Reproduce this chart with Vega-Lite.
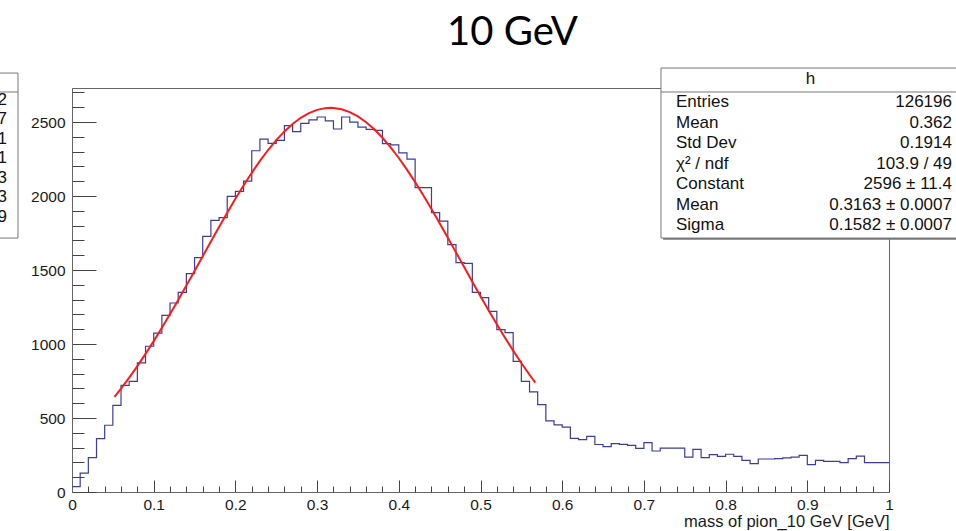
{
  "$schema": "https://vega.github.io/schema/vega-lite/v6.json",
  "width": 817,
  "height": 404,
  "autosize": {"type": "none"},
  "padding": {"left": 72, "top": 88, "right": 67, "bottom": 39},
  "background": "white",
  "title": {"text": "10 GeV", "font": "Lato", "fontSize": 40, "fontWeight": "normal", "color": "#000000", "anchor": "middle", "dx": 32, "offset": 15},
  "config": {
    "view": {"stroke": "#666666", "strokeWidth": 1},
    "axis": {"grid": false, "tickColor": "#444444", "domainColor": "#666666", "labelFont": "Liberation Sans", "labelFontSize": 15.5, "labelColor": "#1a1a1a", "labelFlush": false, "titleFont": "Liberation Sans", "titleFontSize": 16.5, "titleFontWeight": "normal", "titleColor": "#1a1a1a"}
  },
  "datasets": {
    "hist": [
      {"x": 0.00, "n": 36}, {"x": 0.01, "n": 128}, {"x": 0.02, "n": 232}, {"x": 0.03, "n": 361}, {"x": 0.04, "n": 451},
      {"x": 0.05, "n": 586}, {"x": 0.06, "n": 721}, {"x": 0.07, "n": 748}, {"x": 0.08, "n": 872}, {"x": 0.09, "n": 985},
      {"x": 0.10, "n": 1074}, {"x": 0.11, "n": 1194}, {"x": 0.12, "n": 1277}, {"x": 0.13, "n": 1349}, {"x": 0.14, "n": 1476},
      {"x": 0.15, "n": 1584}, {"x": 0.16, "n": 1728}, {"x": 0.17, "n": 1836}, {"x": 0.18, "n": 1854}, {"x": 0.19, "n": 1998},
      {"x": 0.20, "n": 2032}, {"x": 0.21, "n": 2101}, {"x": 0.22, "n": 2306}, {"x": 0.23, "n": 2385}, {"x": 0.24, "n": 2356},
      {"x": 0.25, "n": 2376}, {"x": 0.26, "n": 2476}, {"x": 0.27, "n": 2435}, {"x": 0.28, "n": 2491}, {"x": 0.29, "n": 2514},
      {"x": 0.30, "n": 2534}, {"x": 0.31, "n": 2508}, {"x": 0.32, "n": 2453}, {"x": 0.33, "n": 2534}, {"x": 0.34, "n": 2499},
      {"x": 0.35, "n": 2466}, {"x": 0.36, "n": 2450}, {"x": 0.37, "n": 2444}, {"x": 0.38, "n": 2354}, {"x": 0.39, "n": 2345},
      {"x": 0.40, "n": 2292}, {"x": 0.41, "n": 2250}, {"x": 0.42, "n": 2057}, {"x": 0.43, "n": 2057}, {"x": 0.44, "n": 1888},
      {"x": 0.45, "n": 1831}, {"x": 0.46, "n": 1671}, {"x": 0.47, "n": 1550}, {"x": 0.48, "n": 1545}, {"x": 0.49, "n": 1349},
      {"x": 0.50, "n": 1313}, {"x": 0.51, "n": 1221}, {"x": 0.52, "n": 1097}, {"x": 0.53, "n": 1077}, {"x": 0.54, "n": 883},
      {"x": 0.55, "n": 748}, {"x": 0.56, "n": 676}, {"x": 0.57, "n": 591}, {"x": 0.58, "n": 480}, {"x": 0.59, "n": 453},
      {"x": 0.60, "n": 438}, {"x": 0.61, "n": 363}, {"x": 0.62, "n": 354}, {"x": 0.63, "n": 376}, {"x": 0.64, "n": 321},
      {"x": 0.65, "n": 306}, {"x": 0.66, "n": 327}, {"x": 0.67, "n": 322}, {"x": 0.68, "n": 315}, {"x": 0.69, "n": 295},
      {"x": 0.70, "n": 334}, {"x": 0.71, "n": 277}, {"x": 0.72, "n": 297}, {"x": 0.73, "n": 297}, {"x": 0.74, "n": 297},
      {"x": 0.75, "n": 236}, {"x": 0.76, "n": 288}, {"x": 0.77, "n": 232}, {"x": 0.78, "n": 252}, {"x": 0.79, "n": 241},
      {"x": 0.80, "n": 255}, {"x": 0.81, "n": 241}, {"x": 0.82, "n": 214}, {"x": 0.83, "n": 192}, {"x": 0.84, "n": 223},
      {"x": 0.85, "n": 223}, {"x": 0.86, "n": 225}, {"x": 0.87, "n": 230}, {"x": 0.88, "n": 236}, {"x": 0.89, "n": 248},
      {"x": 0.90, "n": 185}, {"x": 0.91, "n": 214}, {"x": 0.92, "n": 207}, {"x": 0.93, "n": 207}, {"x": 0.94, "n": 198},
      {"x": 0.95, "n": 225}, {"x": 0.96, "n": 243}, {"x": 0.97, "n": 198}, {"x": 0.98, "n": 198}, {"x": 0.99, "n": 198},
      {"x": 1.00, "n": 198}
    ],
    "fit": [
      {"x": 0.052, "f": 643.0}, {"x": 0.06, "f": 698.8}, {"x": 0.07, "f": 772.6}, {"x": 0.08, "f": 850.7}, {"x": 0.09, "f": 933.2},
      {"x": 0.10, "f": 1019.5}, {"x": 0.11, "f": 1109.3}, {"x": 0.12, "f": 1202.2}, {"x": 0.13, "f": 1297.7}, {"x": 0.14, "f": 1395.1},
      {"x": 0.15, "f": 1494.0}, {"x": 0.16, "f": 1593.4}, {"x": 0.17, "f": 1692.8}, {"x": 0.18, "f": 1791.0}, {"x": 0.19, "f": 1887.5},
      {"x": 0.20, "f": 1981.3}, {"x": 0.21, "f": 2071.5}, {"x": 0.22, "f": 2156.9}, {"x": 0.23, "f": 2237.1}, {"x": 0.24, "f": 2311.0},
      {"x": 0.25, "f": 2377.8}, {"x": 0.26, "f": 2436.8}, {"x": 0.27, "f": 2487.2}, {"x": 0.28, "f": 2528.6}, {"x": 0.29, "f": 2560.4},
      {"x": 0.30, "f": 2582.3}, {"x": 0.31, "f": 2593.9}, {"x": 0.3163, "f": 2596.0}, {"x": 0.32, "f": 2595.3}, {"x": 0.33, "f": 2586.3},
      {"x": 0.34, "f": 2567.0}, {"x": 0.35, "f": 2537.8}, {"x": 0.36, "f": 2498.8}, {"x": 0.37, "f": 2450.7}, {"x": 0.38, "f": 2393.8},
      {"x": 0.39, "f": 2329.1}, {"x": 0.40, "f": 2256.9}, {"x": 0.41, "f": 2178.4}, {"x": 0.42, "f": 2094.1}, {"x": 0.43, "f": 2005.1},
      {"x": 0.44, "f": 1912.2}, {"x": 0.45, "f": 1816.4}, {"x": 0.46, "f": 1718.6}, {"x": 0.47, "f": 1619.3}, {"x": 0.48, "f": 1519.8},
      {"x": 0.49, "f": 1420.7}, {"x": 0.50, "f": 1322.8}, {"x": 0.51, "f": 1226.7}, {"x": 0.52, "f": 1133.1}, {"x": 0.53, "f": 1042.5},
      {"x": 0.54, "f": 955.3}, {"x": 0.55, "f": 871.9}, {"x": 0.56, "f": 792.5}, {"x": 0.567, "f": 739.6}
    ]
  },
  "layer": [
    {
      "data": {"name": "hist"},
      "mark": {"type": "line", "interpolate": "step-after", "color": "#3c3c9c", "strokeWidth": 1.2},
      "encoding": {
        "x": {"field": "x", "type": "quantitative", "scale": {"domain": [0, 1], "nice": false, "zero": false},
          "axis": {"orient": "bottom", "values": [0, 0.1, 0.2, 0.3, 0.4, 0.5, 0.6, 0.7, 0.8, 0.9, 1], "format": "~g", "tickSize": -12, "labelPadding": 17, "title": "mass of pion_10 GeV [GeV]", "titleAnchor": "end", "titleAlign": "right", "titlePadding": 1}},
        "y": {"field": "n", "type": "quantitative", "scale": {"domain": [0, 2730], "nice": false},
          "axis": {"orient": "left", "values": [0, 500, 1000, 1500, 2000, 2500], "format": "d", "tickSize": -24, "labelPadding": 31, "title": null}}
      }
    },
    {
      "data": {"name": "fit"},
      "mark": {"type": "line", "color": "#ff1a1a", "strokeWidth": 2},
      "encoding": {
        "x": {"field": "x", "type": "quantitative",
          "axis": {"orient": "bottom", "values": [0.02, 0.04, 0.06, 0.08, 0.12, 0.14, 0.16, 0.18, 0.22, 0.24, 0.26, 0.28, 0.32, 0.34, 0.36, 0.38, 0.42, 0.44, 0.46, 0.48, 0.52, 0.54, 0.56, 0.58, 0.62, 0.64, 0.66, 0.68, 0.72, 0.74, 0.76, 0.78, 0.82, 0.84, 0.86, 0.88, 0.92, 0.94, 0.96, 0.98], "tickSize": -6, "labels": false, "domain": false, "title": null}},
        "y": {"field": "f", "type": "quantitative",
          "axis": {"orient": "left", "values": [100, 200, 300, 400, 600, 700, 800, 900, 1100, 1200, 1300, 1400, 1600, 1700, 1800, 1900, 2100, 2200, 2300, 2400, 2600, 2700], "tickSize": -12, "labels": false, "domain": false, "title": null}}
      }
    },
    {
      "data": {"values": [{}]},
      "mark": {"type": "rect", "fill": "#777777"},
      "encoding": {
        "x": {"datum": 0.7235, "type": "quantitative", "axis": null}, "x2": {"datum": 1.1},
        "y": {"datum": 2850, "type": "quantitative", "axis": null}, "y2": {"datum": 1705}
      }
    },
    {
      "data": {"values": [{}]},
      "mark": {"type": "rect", "fill": "white", "stroke": "#777777", "strokeWidth": 1},
      "encoding": {
        "x": {"datum": 0.7209, "type": "quantitative", "axis": null}, "x2": {"datum": 1.1},
        "y": {"datum": 2865, "type": "quantitative", "axis": null}, "y2": {"datum": 1716}
      }
    },
    {
      "data": {"values": [{}]},
      "mark": {"type": "rule", "color": "#777777", "strokeWidth": 1},
      "encoding": {
        "x": {"datum": 0.7209, "type": "quantitative", "axis": null}, "x2": {"datum": 1.1},
        "y": {"datum": 2703, "type": "quantitative", "axis": null}
      }
    },
    {
      "data": {"values": [{}]},
      "mark": {"type": "text", "text": "h", "font": "Liberation Sans", "fontSize": 17, "align": "center", "baseline": "middle", "color": "#111111"},
      "encoding": {
        "x": {"datum": 0.904, "type": "quantitative", "axis": null},
        "y": {"datum": 2790, "type": "quantitative", "axis": null}
      }
    },
    {
      "data": {"values": [{}]},
      "mark": {"type": "text", "text": ["Entries", "Mean", "Std Dev", "χ² / ndf", "Constant", "Mean", "Sigma"], "font": "Liberation Sans", "fontSize": 17, "lineHeight": 20.5, "align": "left", "baseline": "middle", "color": "#111111"},
      "encoding": {
        "x": {"datum": 0.7393, "type": "quantitative", "axis": null},
        "y": {"datum": 2635, "type": "quantitative", "axis": null}
      }
    },
    {
      "data": {"values": [{}]},
      "mark": {"type": "text", "text": ["126196", "0.362", "0.1914", "103.9 / 49", "2596 ± 11.4", "0.3163 ± 0.0007", "0.1582 ± 0.0007"], "font": "Liberation Sans", "fontSize": 17, "lineHeight": 20.5, "align": "right", "baseline": "middle", "color": "#111111"},
      "encoding": {
        "x": {"datum": 1.0771, "type": "quantitative", "axis": null},
        "y": {"datum": 2635, "type": "quantitative", "axis": null}
      }
    },
    {
      "data": {"values": [{}]},
      "mark": {"type": "rect", "fill": "white", "stroke": "#777777", "strokeWidth": 1},
      "encoding": {
        "x": {"datum": -0.3, "type": "quantitative", "axis": null}, "x2": {"datum": -0.0661},
        "y": {"datum": 2831, "type": "quantitative", "axis": null}, "y2": {"datum": 1716}
      }
    },
    {
      "data": {"values": [{}]},
      "mark": {"type": "rule", "color": "#777777", "strokeWidth": 1},
      "encoding": {
        "x": {"datum": -0.3, "type": "quantitative", "axis": null}, "x2": {"datum": -0.0661},
        "y": {"datum": 2703, "type": "quantitative", "axis": null}
      }
    },
    {
      "data": {"values": [{}]},
      "mark": {"type": "text", "text": ["2", "7", "1", "1", "3", "3", "9"], "font": "Liberation Sans", "fontSize": 17, "lineHeight": 19.5, "align": "right", "baseline": "middle", "color": "#111111"},
      "encoding": {
        "x": {"datum": -0.0796, "type": "quantitative", "axis": null},
        "y": {"datum": 2649, "type": "quantitative", "axis": null}
      }
    }
  ],
  "resolve": {"axis": {"x": "independent", "y": "independent"}}
}
